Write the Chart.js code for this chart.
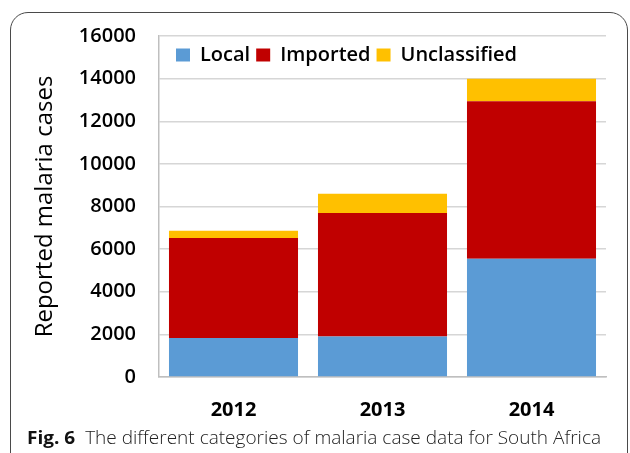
<!DOCTYPE html>
<html>
<head>
<meta charset="utf-8">
<script src="https://cdn.jsdelivr.net/npm/chart.js@4"></script>
<style>
  html, body { margin: 0; padding: 0; background: #fff; overflow: hidden; }
  #frame {
    position: absolute; left: 10px; top: 12px; width: 618px; height: 470px;
    border: 1.5px solid #4a4a4a; border-radius: 18px; box-sizing: border-box;
  }
  #wrap { position: absolute; left: 0; top: 0; width: 630px; height: 453px; }
  #caption {
    position: absolute; left: 27px; top: 425px; white-space: nowrap;
    font-family: "Open Sans", sans-serif; font-size: 18px; color: #222;
    transform-origin: 0 0;
  }
  #caption b { font-weight: 700; color: #111; }
  #caption span { font-weight: 300; }
</style>
</head>
<body>
<div id="frame"></div>
<div id="wrap"><canvas id="chart" width="630" height="453"></canvas></div>
<div id="caption"><b>Fig. 6</b>&nbsp; <span>The different categories of malaria case data for South Africa</span></div>
<script>
// Годы
const years = ['2012', '2013', '2014'];

// Серии (оценены по рисунку)
const local = [1830, 1900, 5550];
const imported = [4690, 5790, 7390];
const unclassified = [340, 905, 1060];

// Деления оси Y
const yMin = 0;
const yMax = 16000;
const yStep = 2000;

const seriesNames = ['Local', 'Imported', 'Unclassified'];
const seriesColors = ['#5b9bd5', '#c00000', '#ffc000'];

// Легенда сверху, но сдвинута внутрь области графика
const legendInside = {
    id: 'legendInside',
    afterLayout(chart) {
        const lg = chart.legend;
        lg.top += 39;
        lg.bottom += 39;
        lg.left += 11;
        lg.right += 11;
    }
};

const ctx = document.getElementById('chart').getContext('2d');

new Chart(ctx, {
    type: 'bar',
    data: {
        labels: years,
        datasets: [local, imported, unclassified].map((values, i) => ({
            label: seriesNames[i],
            data: values,
            backgroundColor: seriesColors[i],
            borderWidth: 0,
            barPercentage: 0.866,
            categoryPercentage: 1
        }))
    },
    options: {
        responsive: false,
        animation: false,
        layout: {
            padding: { left: 0, top: 0, right: 24, bottom: 26 }
        },
        plugins: {
            tooltip: { enabled: false },
            legend: {
                position: 'top',
                align: 'start',
                fullSize: false,
                labels: {
                    boxWidth: 14,
                    boxHeight: 13,
                    padding: 6,
                    color: '#000',
                    font: { family: 'Open Sans', size: 20, weight: '600' }
                }
            }
        },
        scales: {
            x: {
                stacked: true,
                grid: { display: false },
                border: { display: true, color: '#bfbfbf', width: 1.5 },
                ticks: {
                    color: '#000',
                    padding: 13,
                    font: { family: 'Open Sans', size: 20, weight: '700' }
                },
                afterFit: (scale) => { scale.height = 50; }
            },
            y: {
                stacked: true,
                min: yMin,
                max: yMax,
                grid: { color: '#d6d6d6', lineWidth: 1.5, drawTicks: false },
                border: { display: true, color: '#bfbfbf', width: 1.5 },
                ticks: {
                    stepSize: yStep,
                    color: '#000',
                    padding: 23,
                    font: { family: 'Open Sans', size: 20, weight: '600' },
                    callback: (v) => String(v)
                },
                title: {
                    display: true,
                    text: 'Reported malaria cases',
                    color: '#000',
                    padding: { top: 31, bottom: 0 },
                    font: { family: 'Open Sans', size: 24, weight: 'normal' }
                },
                afterFit: (scale) => { scale.width = 159; }
            }
        }
    },
    plugins: [legendInside]
});

// Подгонка подписи по ширине
const cap = document.getElementById('caption');
const w = cap.getBoundingClientRect().width;
cap.style.transform = 'scaleX(' + (574 / w) + ')';
</script>
</body>
</html>
